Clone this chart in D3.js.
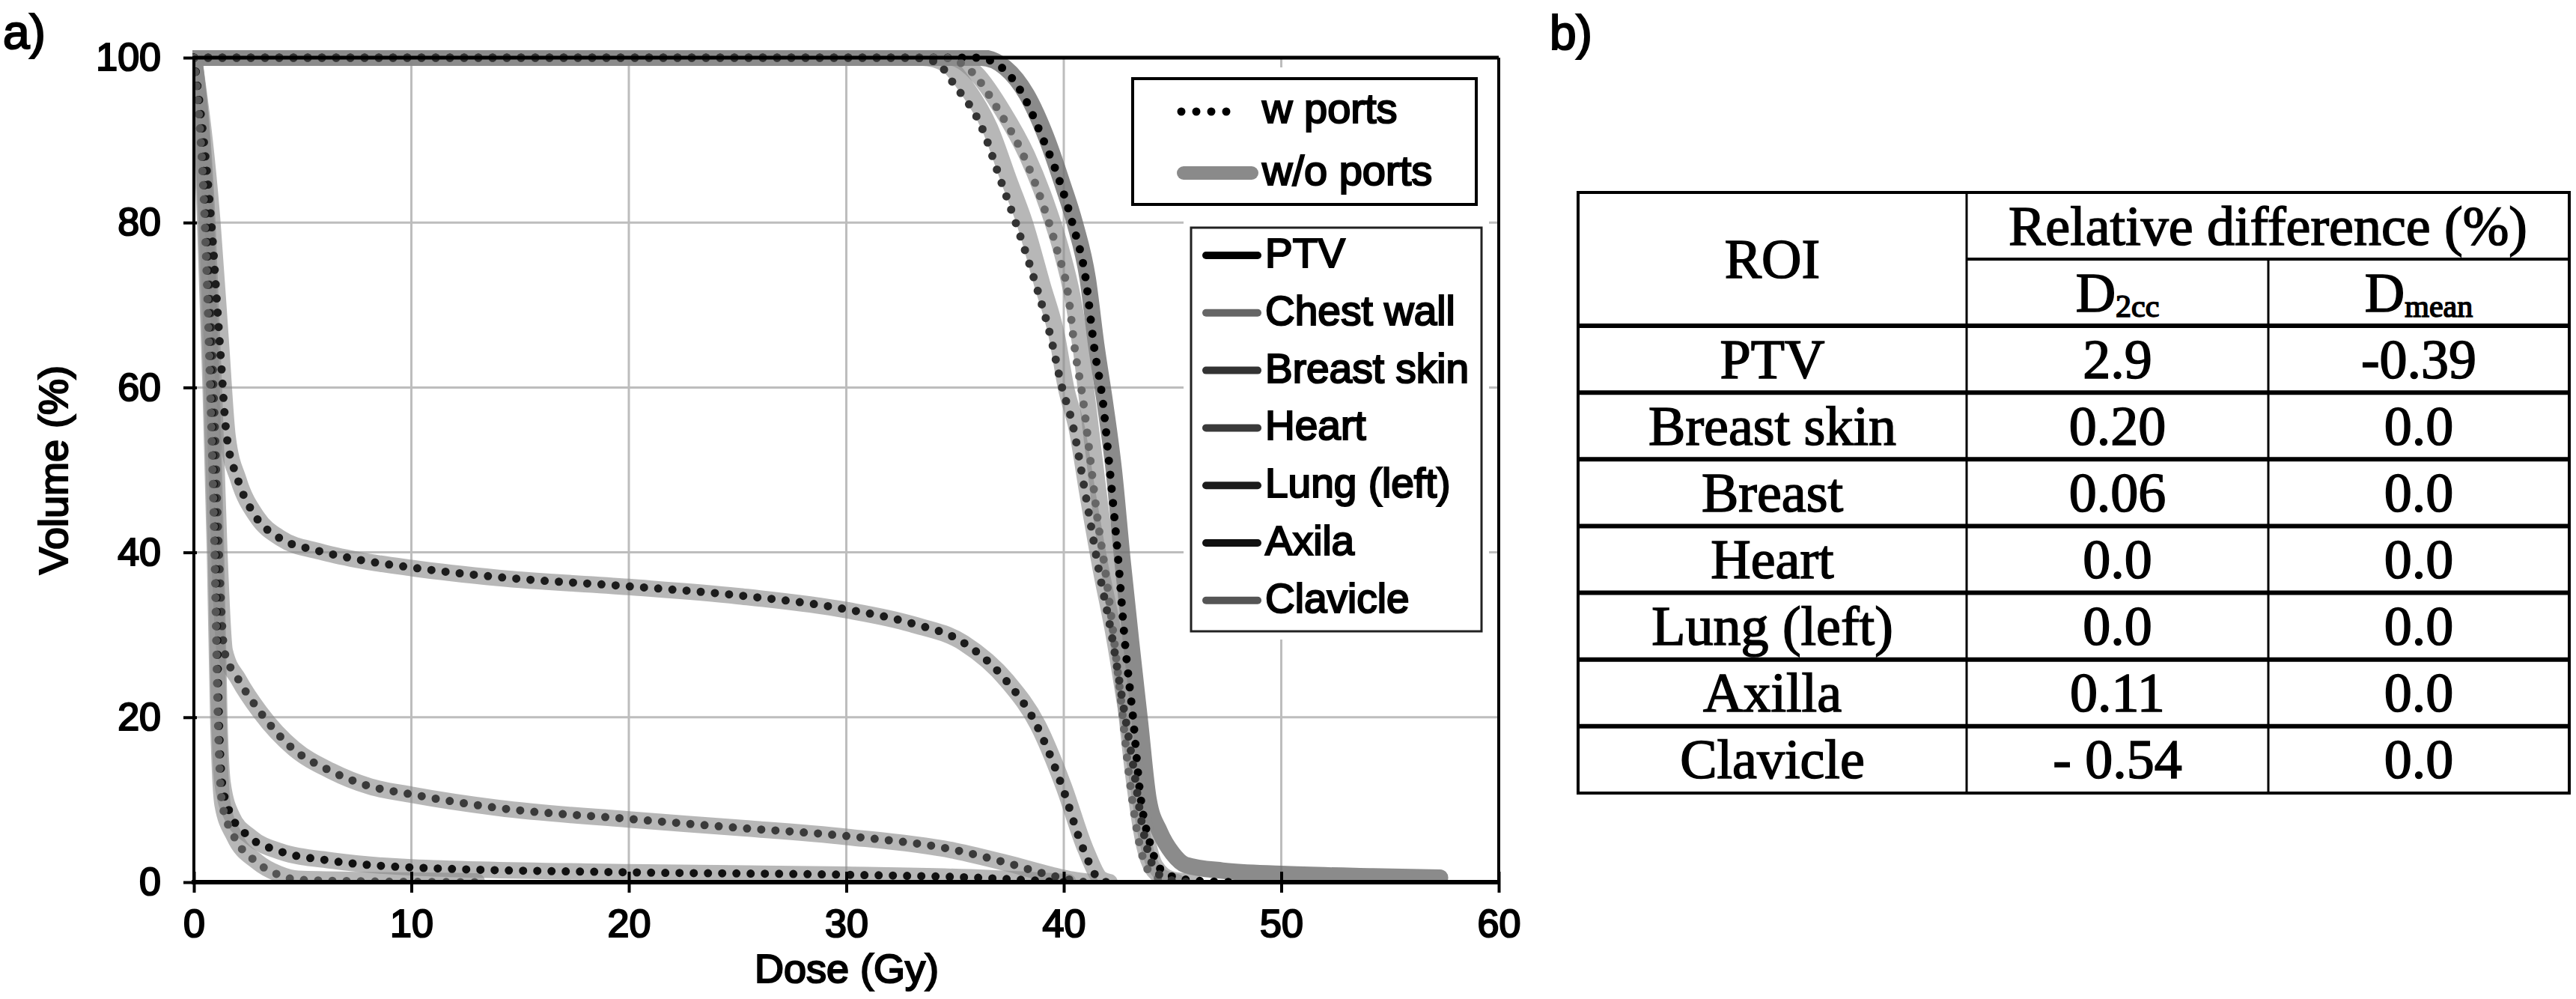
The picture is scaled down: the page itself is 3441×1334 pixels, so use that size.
<!DOCTYPE html>
<html>
<head>
<meta charset="utf-8">
<script src="https://cdn.jsdelivr.net/npm/d3@7"></script>
<style>
  body { margin: 0; background: #fff; }
  svg { display: block; }
  .lbl { stroke: #000; stroke-width: 2.2px; }
  .cell { stroke: #000; stroke-width: 1.6px; }
</style>
</head>
<body>
<svg id="fig" width="3441" height="1334"></svg>
<script>
// DVH points [dose (Gy), volume (%)] read off panel a)
const ptvW = [[0,100],[36,100],[37.1,98.9],[38.1,95.6],[39,90.4],[39.8,85.1],[40.4,79.9],[41,73.3],[41.4,64.8],[41.8,58.2],[42.1,50.4],[42.5,39.2],[42.8,29.4],[43.2,19.5],[43.5,11],[44,4.4],[44.7,1],[46,0.2],[48,0]];
const ptvWo = [[0,100],[36.2,100],[37.3,98.8],[38.3,95.5],[39.2,90.3],[39.9,85],[40.5,80],[41.1,73.2],[41.5,65],[41.9,58],[42.3,50],[42.7,39],[43.1,29],[43.5,19.5],[43.9,10],[44.4,6.2],[45,3.5],[45.6,2.1],[47.3,1.4],[50,1.0],[54.2,0.7],[57.3,0.55]];
const chestWallW = [[0,100],[34.5,100],[35.8,98.2],[37,93.6],[38.1,88.4],[39,82.5],[39.7,76.6],[40.2,71.3],[40.5,64.8],[40.9,58.2],[41.2,51.7],[41.5,45.1],[42,36],[42.6,22.8],[43,13],[43.5,4.4],[44.1,0.8],[45,0]];
const chestWallWo = [[0,100],[34.8,100],[36,98],[37.2,93.5],[38.3,88.2],[39.2,82.3],[39.9,76.5],[40.4,71],[40.8,64.5],[41.1,58],[41.4,51.5],[41.7,45],[42.2,36],[42.8,22.5],[43.2,13],[43.7,4.5],[44.3,1],[45.2,0]];
const breastSkinW = [[0,100],[33,100],[34.1,99.5],[35,96.6],[36.2,91.7],[37.1,85.1],[37.8,79.9],[38.7,72.6],[39.4,66.1],[39.9,60.2],[40.4,55.6],[41,47],[41.6,38],[42.2,30],[42.7,22],[43.2,14],[43.6,7],[44.1,2],[44.8,0.3],[46,0]];
const breastSkinWo = [[0,100],[33.5,100],[34.6,99.2],[35.5,96.5],[36.6,91.5],[37.5,85],[38.2,80],[39,72.6],[39.7,66],[40.1,60],[40.6,55],[41.1,47],[41.7,38],[42.3,30],[42.8,22],[43.3,14],[43.7,7],[44.2,2],[45,0.3],[46,0]];
const heartW = [[0,100],[0.6,80],[0.9,60],[1.15,40],[1.4,28],[2,24.8],[3,20.8],[4.5,16.3],[6.2,13.6],[8,11.7],[9.9,10.7],[14,9],[19.9,7.7],[25,6.6],[30,5.6],[35,3.9],[37.3,2.4],[39.3,0.9],[40.3,0.3],[41,0]];
const heartWo = [[0,100],[0.62,80],[0.92,60],[1.17,40],[1.42,28],[2.05,24.6],[3.05,20.6],[4.6,16.2],[6.3,13.5],[8.1,11.6],[10,10.6],[14,9],[20,7.6],[25,6.6],[30,5.5],[35,3.8],[37.4,2.3],[39.4,0.9],[40.4,0.3],[41.2,0]];
const lungW = [[0,100],[0.8,80],[1.2,65],[1.5,54.3],[2,49],[2.8,44.5],[3.9,41.8],[5.7,40.2],[7.4,39.2],[9.9,38.2],[14,37],[19.9,35.9],[25,34.8],[30,33.1],[33,31.4],[35.3,29.2],[37.3,24.6],[38.7,19.3],[39.9,11.8],[40.9,4],[41.6,0.4],[42,0]];
const lungWo = [[0,100],[0.85,80],[1.25,65],[1.55,54],[2.05,48.8],[2.9,44.3],[4,41.7],[5.8,40.1],[7.5,39.1],[10,38.1],[14,36.9],[20,35.8],[25,34.7],[30,33],[33,31.3],[35.4,29],[37.4,24.4],[38.8,19.1],[40,11.6],[41,4],[41.7,0.4],[42.1,0]];
const axilaW = [[0,100],[0.55,80],[0.8,60],[1.0,40],[1.15,20],[1.3,12],[1.7,8.2],[2.5,5.6],[3.9,3.8],[6.3,2.6],[9.9,1.8],[19.9,1.2],[30,0.9],[36.4,0.5],[40,0]];
const axilaWo = [[0,100],[0.57,80],[0.82,60],[1.02,40],[1.17,20],[1.32,12],[1.75,8],[2.6,5.5],[4,3.7],[6.4,2.6],[10,1.8],[20,1.2],[30,0.9],[36.5,0.5],[40.2,0]];
const clavicleW = [[0,100],[0.5,80],[0.75,60],[0.95,40],[1.1,20],[1.3,9.5],[1.8,5.8],[2.8,2.6],[3.8,1.0],[4.8,0.3],[8,0.1],[13,0]];
const clavicleWo = [[0,100],[0.52,80],[0.77,60],[0.97,40],[1.12,20],[1.32,9.4],[1.85,5.6],[2.9,2.5],[3.9,1.0],[4.8,0.4],[8,0.25],[13,0.1]];

const structures = ["PTV", "Chest wall", "Breast skin", "Heart", "Lung (left)", "Axila", "Clavicle"];
const withPorts = [ptvW, chestWallW, breastSkinW, heartW, lungW, axilaW, clavicleW];
const withoutPorts = [ptvWo, chestWallWo, breastSkinWo, heartWo, lungWo, axilaWo, clavicleWo];
const structColors = ["#000", "#666", "#333", "#3a3a3a", "#1c1c1c", "#111", "#555"];

const xTicks = [0, 10, 20, 30, 40, 50, 60];
const yTicks = [0, 20, 40, 60, 80, 100];

// table b)
const roiNames = ["PTV", "Breast skin", "Breast", "Heart", "Lung (left)", "Axilla", "Clavicle"];
const d2ccValues = ["2.9", "0.20", "0.06", "0.0", "0.0", "0.11", "- 0.54"];
const dmeanValues = ["-0.39", "0.0", "0.0", "0.0", "0.0", "0.0", "0.0"];

const svg = d3.select("#fig");
const sans = "'Liberation Sans', Arial, Helvetica, sans-serif";
const serif = "'Liberation Serif', 'Times New Roman', serif";

const pL = 259, pR = 2002, pT = 77, pB = 1178;
const x = d3.scaleLinear().domain([0, 60]).range([pL, pR]);
const y = d3.scaleLinear().domain([0, 100]).range([pB, pT]);

svg.append("rect").attr("width", 3441).attr("height", 1334).attr("fill", "#fff");

// panel labels
svg.append("text").attr("class", "lbl").attr("x", 4).attr("y", 65).style("font-family", sans).style("font-size", "64px").text("a)");
svg.append("text").attr("class", "lbl").attr("x", 2070).attr("y", 66).style("font-family", sans).style("font-size", "64px").text("b)");

// grid
const grid = svg.append("g").attr("stroke", "#bdbdbd").attr("stroke-width", 3);
grid.selectAll(".vg").data(xTicks.slice(1, -1)).enter().append("line")
  .attr("x1", d => x(d)).attr("x2", d => x(d)).attr("y1", pT).attr("y2", pB);
grid.selectAll(".hg").data(yTicks.slice(1, -1)).enter().append("line")
  .attr("x1", pL).attr("x2", pR).attr("y1", d => y(d)).attr("y2", d => y(d));

svg.append("clipPath").attr("id", "plotclip").append("rect")
  .attr("x", pL - 2).attr("y", pT - 10).attr("width", pR - pL + 4).attr("height", pB - pT + 10);

const line = d3.line().x(d => x(d[0])).y(d => y(d[1])).curve(d3.curveMonotoneX);
const curves = svg.append("g").attr("clip-path", "url(#plotclip)");

// w/o ports: thick grey bands
curves.selectAll(".band").data(withoutPorts).enter().append("path")
  .attr("d", line)
  .attr("fill", "none")
  .attr("stroke", (d, i) => i === 0 ? "#6e6e6e" : "#8a8a8a")
  .attr("stroke-opacity", (d, i) => i === 0 ? 0.8 : 0.62)
  .attr("stroke-width", 22)
  .attr("stroke-linecap", "round")
  .attr("stroke-linejoin", "round");

// w ports: dotted lines
curves.selectAll(".dots").data(withPorts).enter().append("path")
  .attr("d", line)
  .attr("fill", "none")
  .attr("stroke", (d, i) => structColors[i])
  .attr("stroke-width", 11)
  .attr("stroke-dasharray", "0 19")
  .attr("stroke-linecap", "round");

// axes
const xAxis = svg.append("g").attr("transform", `translate(0,${pB})`)
  .call(d3.axisBottom(x).tickValues(xTicks).tickSize(14).tickPadding(22));
xAxis.select(".domain").remove();
xAxis.selectAll(".tick line").attr("y1", -14).attr("stroke", "#000").attr("stroke-width", 4);
xAxis.selectAll(".tick text").attr("class", "lbl").style("font-family", sans).style("font-size", "52px").attr("fill", "#000");

const yAxis = svg.append("g").attr("transform", `translate(${pL},0)`)
  .call(d3.axisLeft(y).tickValues(yTicks).tickSize(14).tickPadding(30));
yAxis.select(".domain").remove();
yAxis.selectAll(".tick line").attr("x1", 4).attr("stroke", "#000").attr("stroke-width", 4);
yAxis.selectAll(".tick text").attr("class", "lbl").style("font-family", sans).style("font-size", "52px").attr("fill", "#000");

// frame
svg.append("line").attr("x1", pL).attr("x2", pR).attr("y1", pT).attr("y2", pT).attr("stroke", "#000").attr("stroke-width", 5);
svg.append("line").attr("x1", pR).attr("x2", pR).attr("y1", pT).attr("y2", pB).attr("stroke", "#000").attr("stroke-width", 4);
svg.append("line").attr("x1", pL).attr("x2", pL).attr("y1", pT - 2).attr("y2", pB + 3).attr("stroke", "#000").attr("stroke-width", 4);
svg.append("line").attr("x1", pL - 3).attr("x2", pR + 2).attr("y1", pB).attr("y2", pB).attr("stroke", "#000").attr("stroke-width", 6);

// axis titles
svg.append("text").attr("class", "lbl").attr("x", 1131).attr("y", 1312).attr("text-anchor", "middle")
  .style("font-family", sans).style("font-size", "54px").text("Dose (Gy)");
svg.append("text").attr("class", "lbl").attr("transform", `translate(90,${(pT + pB) / 2}) rotate(-90)`).attr("text-anchor", "middle")
  .style("font-family", sans).style("font-size", "54px").text("Volume (%)");

// legend 1: line styles
svg.append("rect").attr("x", 1503).attr("y", 90).attr("width", 482).attr("height", 198).attr("fill", "#fff");
svg.append("rect").attr("x", 1513).attr("y", 105).attr("width", 459).attr("height", 168)
  .attr("fill", "none").attr("stroke", "#000").attr("stroke-width", 4);
svg.append("line").attr("x1", 1578).attr("x2", 1658).attr("y1", 149).attr("y2", 149)
  .attr("stroke", "#000").attr("stroke-width", 11).attr("stroke-dasharray", "0 20").attr("stroke-linecap", "round");
svg.append("text").attr("class", "lbl").attr("x", 1686).attr("y", 164).style("font-family", sans).style("font-size", "56px").text("w ports");
svg.append("line").attr("x1", 1581).attr("x2", 1672).attr("y1", 231).attr("y2", 231)
  .attr("stroke", "#8a8a8a").attr("stroke-width", 18).attr("stroke-linecap", "round");
svg.append("text").attr("class", "lbl").attr("x", 1686).attr("y", 247).style("font-family", sans).style("font-size", "56px").text("w/o ports");

// legend 2: structures
svg.append("rect").attr("x", 1581).attr("y", 284).attr("width", 408).attr("height", 570).attr("fill", "#fff");
svg.append("rect").attr("x", 1591).attr("y", 304).attr("width", 388).attr("height", 539)
  .attr("fill", "none").attr("stroke", "#222").attr("stroke-width", 3);
const leg = svg.append("g").selectAll("g").data(structures).enter().append("g")
  .attr("transform", (d, i) => `translate(0,${357 + i * 76.8})`);
leg.append("line").attr("x1", 1611).attr("x2", 1680).attr("y1", -16).attr("y2", -16)
  .attr("stroke", (d, i) => structColors[i]).attr("stroke-width", 10).attr("stroke-linecap", "round");
leg.append("text").attr("class", "lbl").attr("x", 1690).attr("y", 0).style("font-family", sans).style("font-size", "55px").text(d => d);

// table b)
const colX = [2108, 2627, 3030, 3432];
const tTop = 257, hMid = 346, hBot = 435, tBot = 1059;
const rowY = d3.scaleBand().domain(roiNames).range([hBot, tBot]);
const tab = svg.append("g");

tab.append("rect").attr("x", colX[0]).attr("y", tTop).attr("width", colX[3] - colX[0]).attr("height", tBot - tTop)
  .attr("fill", "none").attr("stroke", "#000").attr("stroke-width", 4);
tab.append("line").attr("x1", colX[1]).attr("x2", colX[1]).attr("y1", tTop).attr("y2", tBot).attr("stroke", "#000").attr("stroke-width", 3);
tab.append("line").attr("x1", colX[2]).attr("x2", colX[2]).attr("y1", hMid).attr("y2", tBot).attr("stroke", "#000").attr("stroke-width", 3);
tab.append("line").attr("x1", colX[1]).attr("x2", colX[3]).attr("y1", hMid).attr("y2", hMid).attr("stroke", "#000").attr("stroke-width", 4);
tab.selectAll(".rl").data(roiNames).enter().append("line")
  .attr("x1", colX[0]).attr("x2", colX[3])
  .attr("y1", d => rowY(d)).attr("y2", d => rowY(d))
  .attr("stroke", "#000").attr("stroke-width", 6);

const cellText = (g, cx, cy, txt) => g.append("text").attr("class", "cell").attr("x", cx).attr("y", cy + 25)
  .attr("text-anchor", "middle").style("font-family", serif).style("font-size", "74px").text(txt);

cellText(tab, (colX[0] + colX[1]) / 2, (tTop + hBot) / 2, "ROI");
cellText(tab, (colX[1] + colX[3]) / 2, (tTop + hMid) / 2, "Relative difference (%)");

const sub = (cx, main, s) => {
  const t = tab.append("text").attr("class", "cell").attr("x", cx).attr("y", (hMid + hBot) / 2 + 25).attr("text-anchor", "middle")
    .style("font-family", serif).style("font-size", "74px");
  t.append("tspan").text(main);
  t.append("tspan").attr("dy", 7).style("font-size", "42px").text(s);
};
sub((colX[1] + colX[2]) / 2, "D", "2cc");
sub((colX[2] + colX[3]) / 2, "D", "mean");

roiNames.forEach((r, i) => {
  const cy = rowY(r) + rowY.bandwidth() / 2;
  cellText(tab, (colX[0] + colX[1]) / 2, cy, r);
  cellText(tab, (colX[1] + colX[2]) / 2, cy, d2ccValues[i]);
  cellText(tab, (colX[2] + colX[3]) / 2, cy, dmeanValues[i]);
});
</script>
</body>
</html>
